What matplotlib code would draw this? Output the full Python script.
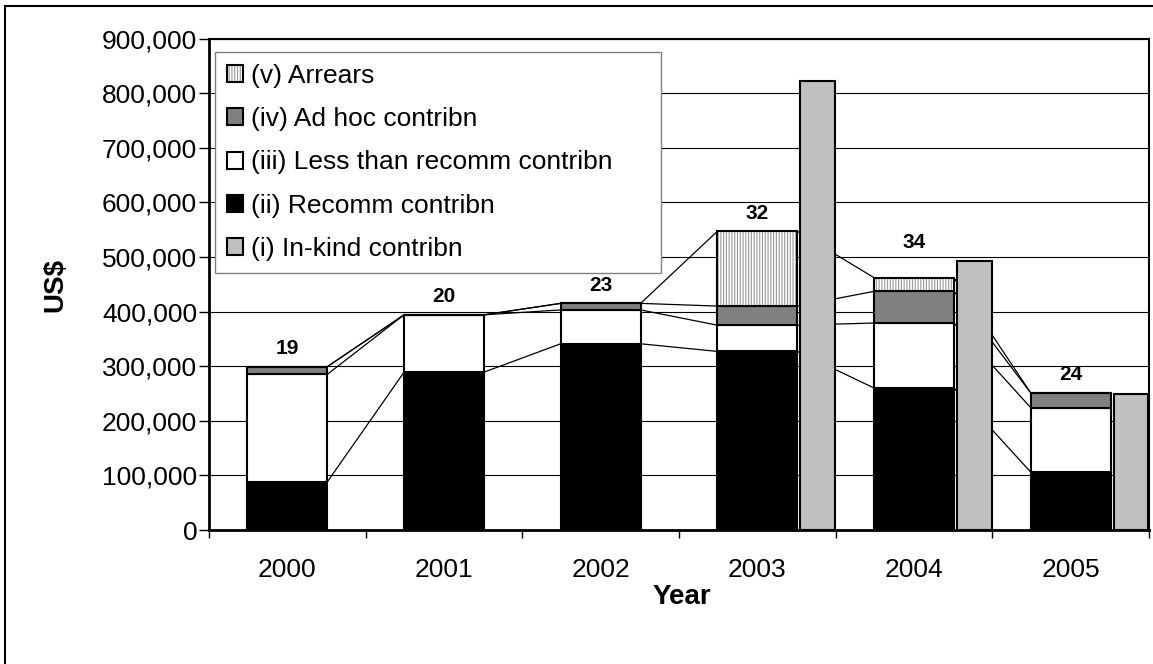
import matplotlib
matplotlib.use('Agg')
import matplotlib.pyplot as plt
import numpy as np
from matplotlib.patches import Patch, Rectangle
from matplotlib.ticker import FuncFormatter, FixedLocator
from matplotlib.legend_handler import HandlerTuple

plt.rcParams['font.family'] = ['Liberation Sans', 'DejaVu Sans']
plt.rcParams['hatch.linewidth'] = 0.8

# data (US$)
years = ['2000', '2001', '2002', '2003', '2004', '2005']
recomm = [88000, 289000, 341000, 327000, 260000, 106000]
less_than = [197000, 105000, 62000, 48000, 119000, 118000]
ad_hoc = [14000, 0, 12000, 35000, 58000, 27000]
arrears = [0, 0, 0, 137000, 25000, 0]
in_kind = [0, 0, 0, 822000, 493000, 249000]
counts = [19, 20, 23, 32, 34, 24]

W, H = 1153, 664
fig = plt.figure(figsize=(W / 100, H / 100), dpi=100)
ax = fig.add_axes([209 / W, 1 - 530 / H, 940 / W, 491.5 / H])

x = np.arange(len(years))
w = 0.51
kx = x + 0.385
kw = 0.22

b1 = np.array(recomm)
b2 = b1 + np.array(less_than)
b3 = b2 + np.array(ad_hoc)
b4 = b3 + np.array(arrears)

lw = 1.5
ax.bar(x, recomm, w, color='black', edgecolor='black', lw=lw, zorder=3)
ax.bar(x, less_than, w, bottom=b1, color='white', edgecolor='black', lw=lw, zorder=3)
ax.bar(x, ad_hoc, w, bottom=b2, color='#808080', edgecolor='black', lw=lw, zorder=3)
ax.bar(x, arrears, w, bottom=b3, color='white', edgecolor='#999999', hatch='||||||', lw=0, zorder=3)
ax.bar(x, arrears, w, bottom=b3, fill=False, edgecolor='black', lw=lw, zorder=3.1)

# series lines between the stacked bars
for level in [b1, b2, b3, b4]:
    for i in range(len(x) - 1):
        ax.plot([x[i] + w / 2, x[i + 1] - w / 2], [level[i], level[i + 1]],
                color='black', lw=0.9, zorder=4)

# in-kind bars beside the stacks
kind = np.array(in_kind)
m = kind > 0
ax.bar(kx[m], kind[m], kw, color='#c0c0c0', edgecolor='black', lw=lw, zorder=5)

# count labels
lifts = [13, 13, 13, 13, 25, 13]
for i, n in enumerate(counts):
    ax.annotate(str(n), (x[i], b4[i]), xytext=(0, lifts[i]), textcoords='offset points',
                ha='center', va='center', fontsize=15, fontweight='bold', zorder=6)

ax.set_xlim(-0.5, 5.5)
ax.set_ylim(0, 900000)
ax.set_yticks(np.arange(0, 900001, 100000))
ax.yaxis.set_major_formatter(FuncFormatter(lambda v, p: f'{int(v):,}'))
ax.yaxis.grid(True, color='black', lw=0.8)
ax.set_axisbelow(True)

ax.set_xticks(x)
ax.set_xticklabels(years)
ax.xaxis.set_minor_locator(FixedLocator(np.arange(-0.5, 6.0, 1.0)))
ax.tick_params(axis='x', which='major', length=0, pad=20, labelsize=19)
ax.tick_params(axis='x', which='minor', length=6, width=1, direction='out')
ax.tick_params(axis='y', length=7, width=1, direction='out', pad=1.5, labelsize=19)

for s in ax.spines.values():
    s.set_color('black')
    s.set_linewidth(1.5)
ax.spines['left'].set_linewidth(2)
ax.spines['bottom'].set_linewidth(2)

fig.text(55 / W, 1 - 285 / H, 'US$', rotation=90, ha='center', va='center',
         fontsize=20, fontweight='bold')
fig.text(682 / W, 1 - 597 / H, 'Year', ha='center', va='center',
         fontsize=20, fontweight='bold')

# legend
h_arr = (Patch(facecolor='white', edgecolor='#999999', hatch='||||||', lw=0),
         Patch(fill=False, edgecolor='black', lw=lw))
handles = [h_arr,
           Patch(facecolor='#808080', edgecolor='black', lw=lw),
           Patch(facecolor='white', edgecolor='black', lw=lw),
           Patch(facecolor='black', edgecolor='black', lw=lw),
           Patch(facecolor='#c0c0c0', edgecolor='black', lw=lw)]
labels = ['(v) Arrears', '(iv) Ad hoc contribn', '(iii) Less than recomm contribn',
          '(ii) Recomm contribn', '(i) In-kind contribn']
leg = ax.legend(handles, labels, handler_map={tuple: HandlerTuple(ndivide=1)},
                loc='upper left', bbox_to_anchor=(0.0064, 0.533, 0.4745, 0.4395),
                mode='expand', fontsize=19, handlelength=0.62, handleheight=0.62,
                handletextpad=0.3, labelspacing=0.73, borderpad=0.45,
                borderaxespad=0, fancybox=False, framealpha=1, edgecolor='#808080')
leg.get_frame().set_linewidth(1)
leg.set_zorder(7)

# outer chart frame
fig.add_artist(Rectangle((5 / W, -0.05), 1.2, 1.05 - 6 / H, transform=fig.transFigure,
                         fill=False, edgecolor='black', lw=1.5))

fig.savefig('out.png', dpi=100)
